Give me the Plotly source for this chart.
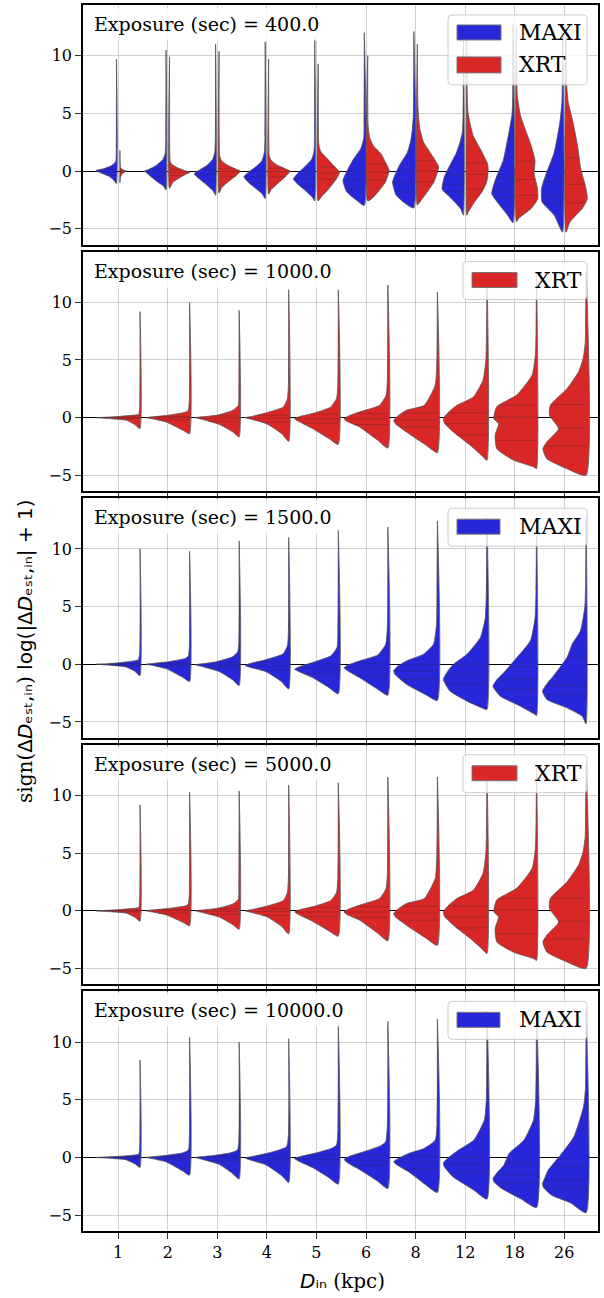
import numpy as np
import plotly.graph_objects as go

CATEGORIES = ["1", "2", "3", "4", "5", "6", "8", "12", "18", "26"]
EXPOSURES = [400.0, 1000.0, 1500.0, 5000.0, 10000.0]
MAXI_COLOR = "#2727d9"
XRT_COLOR = "#d92727"
EDGE_COLOR = "#555555"

# Each violin half: list of (value, relative density width), bottom -> top
P400_MAXI = [
    [(-1.1, 0), (-0.8, 0.12), (-0.45, 0.35), (-0.15, 0.75), (0.05, 0.96), (0.2, 0.6), (0.45, 0.25), (0.8, 0.04), (2.0, 0.01), (9.7, 0)],
    [(-1.65, 0), (-1.3, 0.12), (-0.95, 0.4), (-0.5, 0.7), (-0.15, 0.92), (0.0, 1.0), (0.15, 0.8), (0.5, 0.45), (1.0, 0.15), (1.5, 0.04), (3, 0.01), (10.5, 0)],
    [(-2.1, 0), (-1.7, 0.12), (-1.2, 0.42), (-0.7, 0.75), (-0.25, 1.0), (0.1, 0.75), (0.5, 0.4), (1.0, 0.14), (1.6, 0.04), (3, 0.01), (11.0, 0)],
    [(-2.4, 0), (-2.0, 0.13), (-1.5, 0.45), (-1.0, 0.78), (-0.5, 1.0), (-0.1, 0.78), (0.4, 0.42), (0.9, 0.15), (1.6, 0.04), (3, 0.01), (11.2, 0)],
    [(-2.6, 0), (-2.25, 0.12), (-1.6, 0.5), (-1.1, 0.82), (-0.7, 1.0), (-0.2, 0.8), (0.4, 0.45), (1.0, 0.15), (1.6, 0.04), (3, 0.01), (11.6, 0)],
    [(-3.0, 0), (-2.5, 0.39), (-1.8, 0.83), (-0.8, 1.0), (0.2, 0.76), (1.06, 0.5), (1.93, 0.17), (2.8, 0.03), (4, 0.01), (12.0, 0)],
    [(-3.2, 0), (-2.83, 0.39), (-2.1, 0.83), (-0.95, 1.0), (0.49, 0.68), (1.64, 0.3), (2.6, 0.15), (3.66, 0.07), (5, 0.02), (12.1, 0)],
    [(-3.83, 0), (-3.25, 0.14), (-2.25, 0.64), (-1.58, 1.0), (-0.52, 0.9), (0.49, 0.64), (1.5, 0.35), (2.5, 0.16), (3.37, 0.05), (5, 0.015), (12.7, 0)],
    [(-4.47, 0), (-3.69, 0.31), (-2.68, 0.74), (-1.96, 1.0), (-0.66, 0.81), (0.92, 0.46), (3.08, 0.22), (5.0, 0.04), (7, 0.012), (12.7, 0)],
    [(-5.3, 0), (-3.83, 0.39), (-2.68, 0.96), (-1.53, 0.99), (-0.23, 0.77), (1.64, 0.39), (4.2, 0.13), (6.0, 0.03), (8, 0.012), (12.7, 0)],
]
P400_XRT = [
    [(-1.0, 0), (-0.5, 0.03), (-0.2, 0.12), (0.0, 0.3), (0.1, 0.15), (0.3, 0.03), (1.8, 0)],
    [(-1.5, 0), (-1.0, 0.15), (-0.6, 0.45), (-0.3, 0.75), (-0.1, 0.95), (0.05, 0.7), (0.3, 0.35), (0.6, 0.1), (0.9, 0.03), (2.5, 0.008), (9.9, 0)],
    [(-1.9, 0), (-1.4, 0.14), (-0.9, 0.45), (-0.4, 0.8), (0.0, 1.0), (0.2, 0.75), (0.5, 0.4), (0.9, 0.12), (1.3, 0.03), (3, 0.008), (10.4, 0)],
    [(-2.0, 0), (-1.6, 0.12), (-1.1, 0.42), (-0.5, 0.78), (0.0, 1.0), (0.2, 0.78), (0.5, 0.42), (0.9, 0.13), (1.3, 0.03), (3, 0.008), (9.7, 0)],
    [(-2.6, 0), (-2.25, 0.14), (-1.53, 0.5), (-0.66, 0.86), (-0.1, 1.0), (0.35, 0.79), (1.06, 0.43), (1.6, 0.15), (1.93, 0.07), (2.5, 0.02), (4, 0.008), (9.3, 0)],
    [(-2.6, 0), (-2.2, 0.3), (-0.95, 0.83), (0.06, 1.0), (0.8, 0.82), (1.5, 0.62), (2.2, 0.26), (2.9, 0.09), (4, 0.015), (10.0, 0)],
    [(-2.95, 0), (-2.6, 0.15), (-2.1, 0.35), (-0.95, 0.78), (0.35, 1.0), (1.5, 0.64), (2.5, 0.29), (3.66, 0.12), (5.5, 0.03), (8, 0.01), (11.0, 0)],
    [(-3.83, 0), (-3.54, 0.07), (-2.68, 0.36), (-1.8, 0.71), (-0.95, 0.93), (0.06, 1.0), (0.63, 0.97), (1.64, 0.71), (3.08, 0.29), (5.1, 0.05), (7, 0.012), (12.5, 0)],
    [(-4.4, 0), (-4.1, 0.11), (-3.25, 0.69), (-2.4, 1.0), (-1.38, 0.97), (-0.23, 0.83), (0.92, 0.87), (2.2, 0.69), (4.8, 0.19), (6.5, 0.04), (8.5, 0.012), (12.6, 0)],
    [(-5.3, 0), (-4.4, 0.19), (-3.25, 0.76), (-2.4, 1.0), (-1.24, 0.9), (0.2, 0.69), (2.2, 0.54), (4.2, 0.33), (6.0, 0.1), (7.5, 0.03), (9, 0.012), (12.7, 0)],
]
P400_MAXI_Q = [[-0.35, -0.05, 0.15], [-0.5, -0.1, 0.2], [-0.8, -0.3, 0.1], [-1.0, -0.45, 0.0], [-1.3, -0.65, 0.0],
               [-1.5, -0.8, 0.0], [-1.8, -1.0, 0.0], [-1.8, -1.15, -0.3], [-2.31, -1.68, -0.6], [-2.8, -2.2, -0.9]]
P400_XRT_Q = [[-0.1, 0.0, 0.05], [-0.4, -0.1, 0.15], [-0.45, -0.05, 0.2], [-0.5, -0.05, 0.25], [-0.7, -0.15, 0.35],
              [-0.8, -0.1, 0.6], [-0.95, 0.0, 0.9], [-1.58, -0.29, 0.69], [-2.1, -0.73, 0.85], [-2.77, -1.15, 1.12]]

P1000_XRT = [
    [(-0.96, 0), (-0.6, 0.12), (-0.23, 0.31), (-0.08, 0.7), (0.0, 1.0), (0.05, 0.7), (0.1, 0.5), (0.2, 0.2), (0.29, 0.03), (1, 0.006), (9.2, 0)],
    [(-1.39, 0), (-1.1, 0.15), (-0.38, 0.54), (-0.1, 0.85), (0.0, 1.0), (0.2, 0.5), (0.49, 0.08), (0.64, 0.03), (1.5, 0.006), (10.0, 0)],
    [(-1.68, 0), (-1.25, 0.14), (-0.6, 0.45), (-0.15, 0.85), (0.0, 1.0), (0.2, 0.52), (0.64, 0.14), (1.07, 0.02), (2, 0.006), (9.3, 0)],
    [(-2.06, 0), (-1.39, 0.16), (-0.52, 0.51), (-0.1, 0.9), (0.0, 1.0), (0.1, 0.85), (0.43, 0.51), (0.93, 0.12), (1.65, 0.03), (3, 0.006), (11.1, 0)],
    [(-2.32, 0), (-1.83, 0.21), (-0.95, 0.59), (-0.3, 0.92), (-0.09, 1.0), (0.1, 0.88), (0.35, 0.59), (0.93, 0.17), (1.65, 0.04), (3, 0.008), (11.1, 0)],
    [(-2.64, 0), (-1.97, 0.23), (-0.81, 0.65), (-0.3, 0.95), (-0.09, 1.0), (0.15, 0.9), (0.49, 0.65), (1.07, 0.19), (1.94, 0.04), (3.5, 0.008), (11.5, 0)],
    [(-3.04, 0), (-2.41, 0.25), (-1.25, 0.71), (-0.5, 0.97), (-0.23, 1.0), (0.1, 0.92), (0.64, 0.71), (1.07, 0.3), (2.81, 0.05), (5.0, 0.012), (10.9, 0)],
    [(-3.7, 0), (-3.28, 0.12), (-2.41, 0.38), (-1.25, 0.77), (-0.5, 0.97), (-0.09, 1.0), (0.4, 0.9), (1.07, 0.69), (1.8, 0.31), (3.25, 0.09), (5, 0.025), (7.5, 0.01), (12.5, 0)],
    [(-4.43, 0), (-4.28, 0.06), (-3.7, 0.52), (-2.7, 0.91), (-1.54, 0.95), (-0.52, 0.87), (-0.09, 0.98), (0.96, 0.91), (1.97, 0.45), (3.7, 0.1), (5.5, 0.025), (8, 0.01), (12.6, 0)],
    [(-5.0, 0), (-4.43, 0.44), (-3.57, 0.9), (-2.7, 0.99), (-2.1, 0.9), (-0.96, 0.63), (0.2, 0.84), (1.07, 0.82), (2.5, 0.44), (4.0, 0.17), (5.1, 0.07), (6.5, 0.02), (9, 0.01), (12.7, 0)],
]
P1000_XRT_Q = [[-0.1, 0.0, 0.05], [-0.2, 0.0, 0.1], [-0.3, -0.05, 0.15], [-0.4, -0.05, 0.2], [-0.5, -0.1, 0.3],
               [-0.6, -0.1, 0.35], [-0.8, -0.2, 0.4], [-1.48, -0.52, 0.43], [-1.97, 0.06, 1.07], [-2.46, -0.9, 1.13]]

P1500_MAXI = [
    [(-1.0, 0), (-0.6, 0.12), (-0.23, 0.33), (-0.08, 0.7), (0.0, 1.0), (0.05, 0.72), (0.12, 0.5), (0.25, 0.2), (0.38, 0.04), (1, 0.006), (10.0, 0)],
    [(-1.5, 0), (-1.15, 0.15), (-0.4, 0.53), (-0.1, 0.85), (0.0, 1.0), (0.2, 0.52), (0.5, 0.1), (0.7, 0.03), (1.5, 0.006), (9.8, 0)],
    [(-1.85, 0), (-1.35, 0.15), (-0.65, 0.45), (-0.2, 0.85), (-0.05, 1.0), (0.2, 0.55), (0.65, 0.15), (1.1, 0.03), (2, 0.006), (10.7, 0)],
    [(-2.15, 0), (-1.5, 0.17), (-0.65, 0.52), (-0.25, 0.9), (-0.1, 1.0), (0.1, 0.85), (0.4, 0.52), (0.9, 0.13), (1.6, 0.03), (3, 0.006), (11.0, 0)],
    [(-2.57, 0), (-2.04, 0.21), (-1.16, 0.59), (-0.6, 0.92), (-0.44, 1.0), (-0.2, 0.88), (0.15, 0.59), (0.73, 0.17), (1.45, 0.03), (3, 0.008), (11.6, 0)],
    [(-2.68, 0), (-2.18, 0.23), (-1.16, 0.65), (-0.5, 0.95), (-0.3, 1.0), (-0.05, 0.9), (0.29, 0.65), (0.81, 0.23), (1.74, 0.05), (3.5, 0.008), (11.9, 0)],
    [(-3.15, 0), (-2.68, 0.25), (-1.74, 0.71), (-0.9, 0.97), (-0.58, 1.0), (-0.2, 0.92), (0.29, 0.71), (0.87, 0.32), (1.74, 0.09), (3.5, 0.02), (6.4, 0.01), (12.4, 0)],
    [(-3.93, 0), (-3.78, 0.12), (-3.2, 0.46), (-2.33, 0.85), (-1.31, 1.0), (-0.6, 0.9), (0.0, 0.77), (0.87, 0.46), (2.33, 0.15), (4, 0.04), (6.4, 0.015), (12.7, 0)],
    [(-4.45, 0), (-4.3, 0.06), (-3.64, 0.37), (-2.77, 0.83), (-1.9, 1.0), (-1.3, 0.9), (-0.73, 0.75), (0.58, 0.45), (2.04, 0.14), (4, 0.035), (6.4, 0.012), (12.7, 0)],
    [(-5.18, 0), (-4.51, 0.09), (-3.78, 0.44), (-3.06, 0.9), (-2.33, 1.0), (-1.6, 0.88), (-1.02, 0.75), (0.58, 0.44), (1.74, 0.32), (2.91, 0.13), (4.95, 0.03), (7, 0.012), (12.7, 0)],
]
P1500_MAXI_Q = [[-0.1, 0.0, 0.05], [-0.2, -0.02, 0.1], [-0.3, -0.08, 0.15], [-0.5, -0.15, 0.2], [-0.8, -0.35, 0.05],
                [-0.97, -0.3, 0.1], [-1.31, -0.58, 0.0], [-1.74, -0.87, 0.0], [-2.18, -1.31, -0.2], [-2.62, -1.83, 0.58]]

P5000_XRT = [
    [(-0.9, 0), (-0.55, 0.12), (-0.2, 0.31), (-0.07, 0.7), (0.0, 1.0), (0.05, 0.7), (0.1, 0.5), (0.2, 0.2), (0.29, 0.03), (1, 0.006), (9.2, 0)],
    [(-1.3, 0), (-1.0, 0.15), (-0.35, 0.54), (-0.1, 0.85), (0.0, 1.0), (0.2, 0.5), (0.45, 0.08), (0.6, 0.03), (1.5, 0.006), (10.3, 0)],
    [(-1.6, 0), (-1.2, 0.14), (-0.55, 0.45), (-0.15, 0.85), (0.0, 1.0), (0.2, 0.52), (0.6, 0.14), (1.0, 0.02), (2, 0.006), (10.4, 0)],
    [(-2.0, 0), (-1.35, 0.16), (-0.5, 0.51), (-0.1, 0.9), (0.0, 1.0), (0.1, 0.85), (0.4, 0.51), (0.9, 0.12), (1.6, 0.03), (3, 0.006), (10.9, 0)],
    [(-2.2, 0), (-1.75, 0.21), (-0.9, 0.59), (-0.3, 0.92), (-0.09, 1.0), (0.1, 0.88), (0.35, 0.59), (0.9, 0.17), (1.6, 0.04), (3, 0.008), (11.1, 0)],
    [(-2.6, 0), (-1.95, 0.23), (-0.8, 0.65), (-0.3, 0.95), (-0.09, 1.0), (0.15, 0.9), (0.49, 0.65), (1.07, 0.19), (1.94, 0.04), (3.5, 0.008), (11.6, 0)],
    [(-3.0, 0), (-2.4, 0.25), (-1.25, 0.71), (-0.5, 0.97), (-0.23, 1.0), (0.1, 0.92), (0.64, 0.71), (1.07, 0.3), (2.81, 0.05), (5.0, 0.012), (11.6, 0)],
    [(-3.7, 0), (-3.28, 0.12), (-2.41, 0.38), (-1.25, 0.77), (-0.5, 0.97), (-0.09, 1.0), (0.4, 0.9), (1.07, 0.69), (1.8, 0.31), (3.25, 0.09), (5, 0.025), (7.5, 0.01), (12.5, 0)],
    [(-4.3, 0), (-4.15, 0.06), (-3.6, 0.52), (-2.7, 0.91), (-1.54, 0.95), (-0.52, 0.87), (-0.09, 0.98), (0.96, 0.91), (1.97, 0.45), (3.7, 0.1), (5.5, 0.025), (8, 0.01), (12.6, 0)],
    [(-5.0, 0), (-4.43, 0.44), (-3.57, 0.9), (-2.7, 0.99), (-2.1, 0.9), (-0.96, 0.63), (0.2, 0.84), (1.07, 0.82), (2.5, 0.44), (4.0, 0.17), (5.1, 0.07), (6.5, 0.02), (9, 0.01), (12.7, 0)],
]
P5000_XRT_Q = [[-0.1, 0.0, 0.05], [-0.2, 0.0, 0.1], [-0.3, -0.05, 0.15], [-0.4, -0.05, 0.2], [-0.5, -0.1, 0.3],
               [-0.6, -0.1, 0.35], [-0.8, -0.2, 0.4], [-1.48, -0.52, 0.43], [-1.97, 0.06, 1.07], [-2.46, -0.9, 1.13]]

P10000_MAXI = [
    [(-0.87, 0), (-0.55, 0.12), (-0.2, 0.33), (-0.07, 0.7), (0.0, 1.0), (0.05, 0.7), (0.1, 0.45), (0.2, 0.15), (0.29, 0.03), (1, 0.006), (8.46, 0)],
    [(-1.54, 0), (-1.2, 0.15), (-0.4, 0.53), (-0.1, 0.86), (0.0, 1.0), (0.15, 0.6), (0.4, 0.15), (0.64, 0.03), (1.5, 0.006), (10.43, 0)],
    [(-1.88, 0), (-1.4, 0.15), (-0.6, 0.46), (-0.15, 0.86), (0.0, 1.0), (0.15, 0.62), (0.4, 0.2), (0.64, 0.04), (1.5, 0.006), (10.0, 0)],
    [(-2.17, 0), (-1.55, 0.17), (-0.65, 0.52), (-0.2, 0.9), (-0.05, 1.0), (0.15, 0.75), (0.45, 0.4), (0.93, 0.05), (2, 0.006), (10.3, 0)],
    [(-2.32, 0), (-1.8, 0.2), (-0.9, 0.58), (-0.3, 0.92), (-0.1, 1.0), (0.1, 0.85), (0.4, 0.5), (0.8, 0.15), (1.07, 0.04), (2.5, 0.008), (11.6, 0)],
    [(-2.7, 0), (-2.1, 0.22), (-1.1, 0.63), (-0.4, 0.95), (-0.17, 1.0), (0.1, 0.88), (0.5, 0.55), (1.0, 0.17), (1.36, 0.05), (3, 0.008), (11.8, 0)],
    [(-3.04, 0), (-2.26, 0.31), (-1.25, 0.66), (-0.6, 0.95), (-0.38, 1.0), (-0.1, 0.9), (0.35, 0.66), (0.78, 0.31), (1.5, 0.05), (3, 0.01), (12.0, 0)],
    [(-3.62, 0), (-2.84, 0.3), (-1.68, 0.78), (-0.8, 0.98), (-0.46, 1.0), (0.0, 0.88), (0.64, 0.65), (1.51, 0.3), (3.25, 0.06), (5, 0.015), (12.7, 0)],
    [(-4.35, 0), (-3.57, 0.37), (-2.7, 0.8), (-2.1, 0.98), (-1.83, 1.0), (-1.3, 0.9), (-0.67, 0.75), (0.35, 0.63), (1.5, 0.29), (3.25, 0.07), (5, 0.02), (12.7, 0)],
    [(-4.8, 0), (-3.94, 0.36), (-3.28, 0.79), (-2.6, 0.98), (-2.26, 1.0), (-1.8, 0.95), (-1.1, 0.87), (0.06, 0.62), (1.8, 0.28), (4.4, 0.06), (6, 0.015), (12.7, 0)],
]
P10000_MAXI_Q = [[-0.1, 0.0, 0.05], [-0.2, -0.02, 0.1], [-0.3, -0.05, 0.1], [-0.4, -0.1, 0.15], [-0.5, -0.15, 0.2],
                 [-0.7, -0.25, 0.2], [-1.0, -0.4, 0.1], [-1.3, -0.6, 0.0], [-2.2, -1.5, -0.5], [-2.6, -2.0, -0.8]]

PANELS = [
    (EXPOSURES[0], [("MAXI", P400_MAXI, P400_MAXI_Q), ("XRT", P400_XRT, P400_XRT_Q)]),
    (EXPOSURES[1], [("XRT", P1000_XRT, P1000_XRT_Q)]),
    (EXPOSURES[2], [("MAXI", P1500_MAXI, P1500_MAXI_Q)]),
    (EXPOSURES[3], [("XRT", P5000_XRT, P5000_XRT_Q)]),
    (EXPOSURES[4], [("MAXI", P10000_MAXI, P10000_MAXI_Q)]),
]
COLORS = {"MAXI": MAXI_COLOR, "XRT": XRT_COLOR}

# ---- layout geometry (pixels) ----
FW, FH = 604, 1298
L, R, T, B = 83, 598, 3, 1231
PANEL_TOPS = [3, 250, 497, 744, 991]
PANEL_H = 240


def pxx(px):
    return (px - L) / (R - L)


def pyy(py):
    return (B - py) / (B - T)


fig = go.Figure()
SERIF = "DejaVu Serif"

for k, (expo, series) in enumerate(PANELS):
    xa = "x" if k == 0 else f"x{k+1}"
    ya = "y" if k == 0 else f"y{k+1}"
    split = len(series) == 2
    for s_idx, (name, profs, quarts) in enumerate(series):
        color = COLORS[name]
        if split:
            side = -1 if s_idx == 0 else 1
            off = side * 0.035
            W = 0.43
        else:
            side = -1
            off = 0.44
            W = 0.88
        qx, qy = [], []
        for i, (prof, q) in enumerate(zip(profs, quarts)):
            ys = [p[0] for p in prof]
            ws = [p[1] for p in prof]
            edge = i + off
            xs = [edge + side * w * W for w in ws] + [edge]
            yy = ys + [ys[0]]
            fig.add_trace(go.Scatter(
                x=xs, y=yy, mode="lines", fill="toself", fillcolor=color,
                line=dict(color=EDGE_COLOR, width=0.8, shape="spline", smoothing=0.5),
                xaxis=xa, yaxis=ya, showlegend=False, hoverinfo="skip", name=name))
            for qq in q:
                w = float(np.interp(qq, ys, ws))
                qx += [edge, edge + side * w * W, None]
                qy += [qq, qq, None]
        fig.add_trace(go.Scatter(
            x=qx, y=qy, mode="lines", line=dict(color="rgba(40,40,40,0.4)", width=0.7),
            xaxis=xa, yaxis=ya, showlegend=False, hoverinfo="skip"))

layout = dict(
    width=FW, height=FH,
    margin=dict(l=L, r=FW - R, t=T, b=FH - B),
    paper_bgcolor="white", plot_bgcolor="white",
    font=dict(family=SERIF, size=16, color="black"),
    showlegend=False,
)

GRID = "rgba(150,150,150,0.45)"
annotations = []
shapes = []
for k in range(5):
    top = PANEL_TOPS[k]
    bot = top + PANEL_H
    xk = "xaxis" if k == 0 else f"xaxis{k+1}"
    yk = "yaxis" if k == 0 else f"yaxis{k+1}"
    ya = "y" if k == 0 else f"y{k+1}"
    xa = "x" if k == 0 else f"x{k+1}"
    layout[xk] = dict(
        domain=[0, 1], anchor=ya, range=[-0.71, 9.68],
        tickvals=list(range(len(CATEGORIES))), ticktext=CATEGORIES,
        showticklabels=(k == 4), ticks="outside", ticklen=6, tickcolor="#333", tickwidth=1,
        showgrid=True, gridcolor=GRID, gridwidth=1,
        showline=True, mirror=True, linecolor="black", linewidth=1.6,
        zeroline=False, layer="above traces",
        tickfont=dict(family=SERIF, size=16, color="black"),
    )
    layout[yk] = dict(
        domain=[pyy(bot), pyy(top)], anchor=xa, range=[-6.38, 14.4],
        tickvals=[-5, 0, 5, 10], ticktext=["\u22125", "0", "5", "10"],
        ticks="outside", ticklen=6, tickcolor="#333", tickwidth=1,
        showgrid=True, gridcolor=GRID, gridwidth=1,
        zeroline=True, zerolinecolor="black", zerolinewidth=1.1,
        showline=True, mirror=True, linecolor="black", linewidth=1.6,
        layer="above traces",
        tickfont=dict(family=SERIF, size=16, color="black"),
    )
    # panel title
    annotations.append(dict(
        xref="paper", yref="paper", x=pxx(88), y=pyy(top + 2), xanchor="left", yanchor="top",
        text=f"Exposure (sec) = {PANELS[k][0]:.1f}", showarrow=False,
        font=dict(family=SERIF, size=19, color="black"),
        bgcolor="rgba(255,255,255,0.85)", borderpad=5,
    ))
    # legend box, drawn in paper coordinates
    names = [s[0] for s in PANELS[k][1]]
    if len(names) == 2:
        bx0, bx1, by0, by1 = 448, 587, top + 10, top + 80
        entries = [(names[0], top + 20, top + 35), (names[1], top + 52, top + 68)]
        px0, px1, tx = 457, 501, 517
    else:
        if names[0] == "MAXI":
            bx0, bx1 = 448, 587
            px0, px1, tx = 457, 500, 517
        else:
            bx0, bx1 = 463, 587
            px0, px1, tx = 472, 517, 533
        by0, by1 = top + 10, top + 48
        entries = [(names[0], top + 21, top + 36)]
    r = 4
    X = lambda v: f"{pxx(v):.5f}"
    Y = lambda v: f"{pyy(v):.5f}"
    path = (f"M{X(bx0 + r)},{Y(by0)} L{X(bx1 - r)},{Y(by0)} Q{X(bx1)},{Y(by0)} {X(bx1)},{Y(by0 + r)} "
            f"L{X(bx1)},{Y(by1 - r)} Q{X(bx1)},{Y(by1)} {X(bx1 - r)},{Y(by1)} "
            f"L{X(bx0 + r)},{Y(by1)} Q{X(bx0)},{Y(by1)} {X(bx0)},{Y(by1 - r)} "
            f"L{X(bx0)},{Y(by0 + r)} Q{X(bx0)},{Y(by0)} {X(bx0 + r)},{Y(by0)} Z")
    shapes.append(dict(type="path", xref="paper", yref="paper", path=path,
                       fillcolor="rgba(255,255,255,0.8)", line=dict(color="#cccccc", width=1), layer="above"))
    for (nm, ey0, ey1) in entries:
        shapes.append(dict(type="rect", xref="paper", yref="paper",
                           x0=pxx(px0), x1=pxx(px1), y0=pyy(ey1), y1=pyy(ey0),
                           fillcolor=COLORS[nm], line=dict(color="#777777", width=1), layer="above"))
        annotations.append(dict(
            xref="paper", yref="paper", x=pxx(tx), y=pyy((ey0 + ey1) / 2), xanchor="left", yanchor="middle",
            text=nm, showarrow=False, font=dict(family=SERIF, size=22, color="black")))

# axis titles (unicode subscripts keep every text element sized)
SANS_SPAN = "<span style='font-family:DejaVu Sans;font-size:20px'>"
SUB_EST_IN = "\u2091\u209b\u209c,\u1d62\u2099"
annotations.append(dict(
    xref="paper", yref="paper", x=pxx(25), y=pyy(650), xanchor="center", yanchor="middle",
    textangle=-90, showarrow=False,
    text=("sign(" + SANS_SPAN + "\u0394<i>D</i>" + SUB_EST_IN + "</span>) "
          + SANS_SPAN + "log(|\u0394<i>D</i>" + SUB_EST_IN + "| + 1)</span>"),
    font=dict(family=SERIF, size=20, color="black")))
annotations.append(dict(
    xref="paper", yref="paper", x=pxx(342), y=pyy(1281), xanchor="center", yanchor="middle",
    showarrow=False,
    text=SANS_SPAN + "<i>D</i>\u1d62\u2099</span> (kpc)",
    font=dict(family=SERIF, size=20, color="black")))

layout["annotations"] = annotations
layout["shapes"] = shapes
fig.update_layout(**layout)
fig.write_html("out.html")
